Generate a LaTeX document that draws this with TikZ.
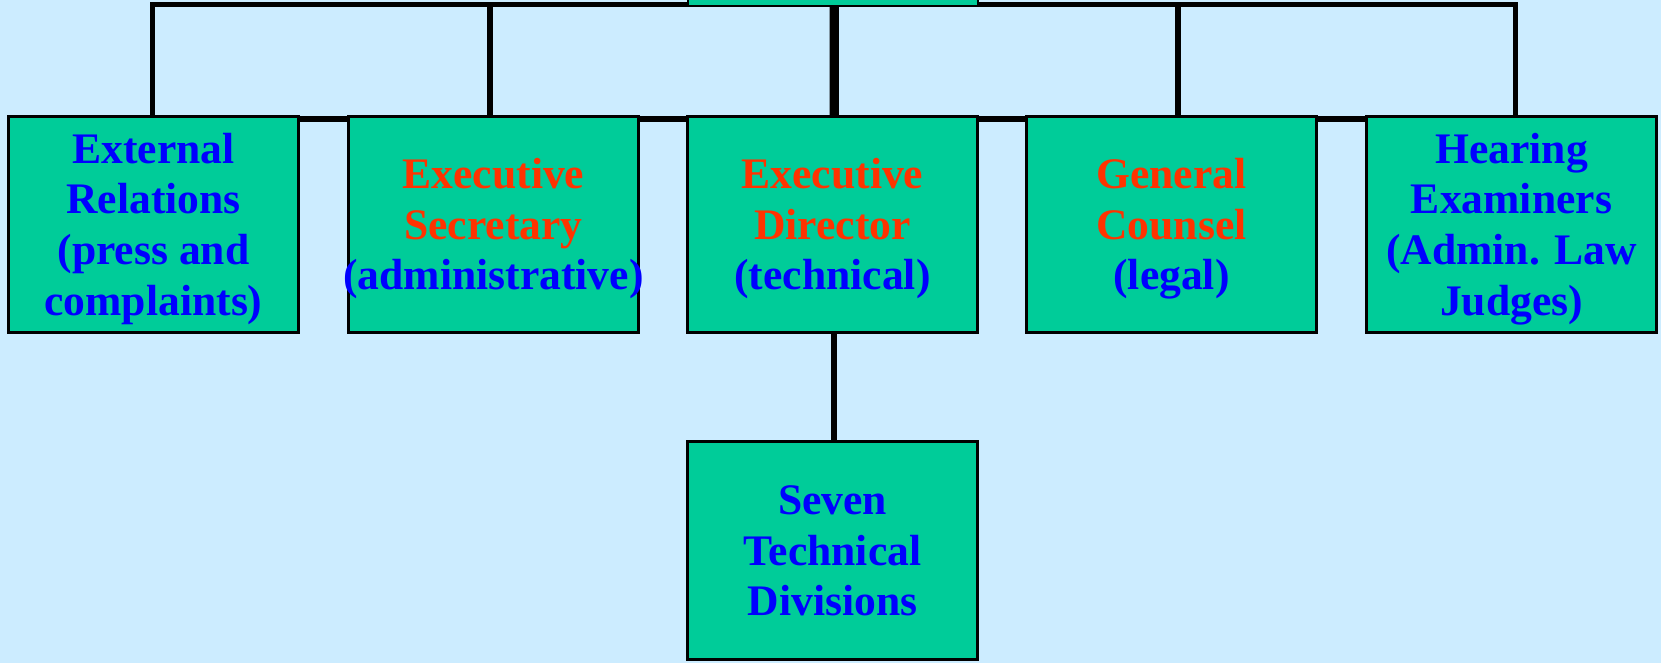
\documentclass[tikz,border=0pt]{standalone}
\usepackage{fontspec}
\setmainfont{Liberation Serif}
\usetikzlibrary{positioning}
\usetikzlibrary{calc}
\definecolor{bgblue}{HTML}{CCECFF}
\definecolor{boxgreen}{HTML}{00CC99}
\definecolor{headred}{HTML}{FF3300}
\definecolor{textblue}{HTML}{0000FF}
\pgfdeclarelayer{back}
\pgfdeclarelayer{wires}
\pgfsetlayers{back,wires,main}
\newcommand{\headtxt}{\color{headred}}
\newcommand{\officestrut}{\rule[-0.216em]{0pt}{1.107em}}
\tikzstyle{office}=[rectangle,fill=boxgreen,draw=black,line width=1.35pt,minimum width=145pt,minimum height=108pt,inner sep=0pt,align=center,text=textblue,font=\bfseries\fontsize{21.8}{25.3}\selectfont]
\tikzstyle{wire}=[draw=black,line width=2.8pt]
\tikzstyle{trunk}=[draw=black,line width=4.6pt]

\begin{document}
\begin{tikzpicture}[x=0.5pt,y=0.5pt]

\useasboundingbox (0,0) rectangle (1661,663);
\begin{pgfonlayer}{back}
  \fill[bgblue] (0,0) rectangle (1661,663);
\end{pgfonlayer}
\clip (0,0) rectangle (1661,663);

%Offices
    \node[office] (commission) at (833,765) {};
    \foreach \pos/\name/\label in {{(153.5,438.5)/extrel/{External\\Relations\\(press and\\complaints)}},
        {(493.5,438.5)/exsec/{\headtxt Executive\\\headtxt Secretary\\\makebox[0pt]{(administrative)}}},
        {(832.5,438.5)/exdir/{\headtxt Executive\\\headtxt Director\\(technical)}},
        {(1171.5,438.5)/counsel/{\headtxt General\\\headtxt Counsel\\(legal)}},
        {(1511.5,438.5)/hearing/{Hearing\\Examiners\\(Admin. Law\\Judges)}}}
        \node[office] (\name) at \pos {\officestrut\label\officestrut};
    \node[office, minimum height=109pt] (divisions) at (832.5,112.5) {\officestrut Seven\\Technical\\Divisions\officestrut};

%Lines
\begin{pgfonlayer}{wires}
    \coordinate (bus) at (833,658.5);
    \draw[wire, line width=2.5pt] ($(extrel.north)+(-1.5,0)$) |- (bus) -| ($(hearing.north)+(3.5,0)$);
    \foreach \name/\dx in {exsec/-3.5, counsel/6.5}
        \draw[wire] ($(\name.north)+(\dx,0)$) |- (bus);
    \draw[wire, line width=3pt] ($(extrel.north)+(0,-4)$) -- ($(hearing.north)+(0,-4)$);
    \draw[trunk] ($(commission.center)+(1.5,0)$) -- ($(exdir.center)+(1.5,0)$);
    \draw[wire, line width=3pt] ($(exdir.center)+(1.5,0)$) -- ($(divisions.center)+(1.5,0)$);
\end{pgfonlayer}

\end{tikzpicture}
\end{document}
